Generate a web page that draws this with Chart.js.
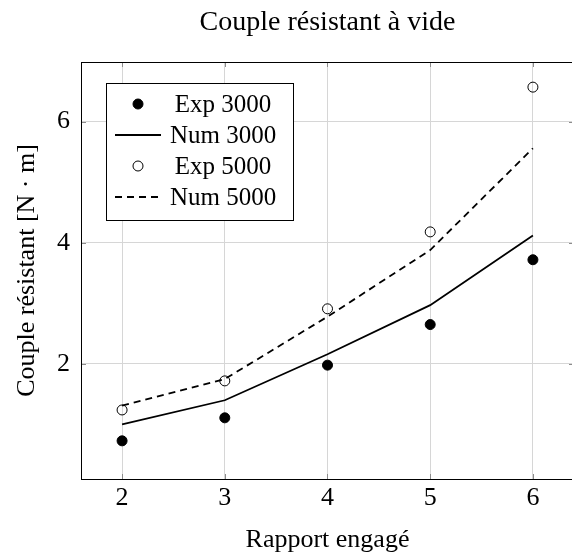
<!DOCTYPE html>
<html>
<head>
<meta charset="utf-8">
<script src="https://cdn.jsdelivr.net/npm/chart.js@4"></script>
<style>
  html, body { margin: 0; padding: 0; background: #fff; overflow: hidden; }
  canvas { display: block; }
</style>
</head>
<body>
<canvas id="chart" width="592" height="557"></canvas>
<script>
// données
const rapports = [2, 3, 4, 5, 6];
const exp3000 = [0.73, 1.11, 1.98, 2.65, 3.72];
const num3000 = [1.00, 1.40, 2.16, 2.97, 4.12];
const exp5000 = [1.24, 1.72, 2.91, 4.18, 6.57];
const num5000 = [1.31, 1.75, 2.78, 3.88, 5.56];
const xTicks = [2, 3, 4, 5, 6];
const yTicks = [2, 4, 6];

const FONT = "'Liberation Serif', 'Times New Roman', serif";
Chart.defaults.font.family = FONT;
Chart.defaults.color = '#000';

function toPoints(values) {
  return rapports.map((x, i) => ({ x: x, y: values[i] }));
}

// titre centré sur la zone de tracé + cadre et petites graduations
const frame = {
  id: 'frame',
  afterDraw(chart) {
    const { ctx, chartArea: a, scales } = chart;
    ctx.save();
    ctx.strokeStyle = '#8c8c8c';
    ctx.lineWidth = 1;
    ctx.beginPath();
    xTicks.forEach(v => {
      const px = Math.round(scales.x.getPixelForValue(v)) + 0.5;
      ctx.moveTo(px, a.bottom); ctx.lineTo(px, a.bottom - 5);
      ctx.moveTo(px, a.top); ctx.lineTo(px, a.top + 5);
    });
    yTicks.forEach(v => {
      const py = Math.round(scales.y.getPixelForValue(v)) + 0.5;
      ctx.moveTo(a.left, py); ctx.lineTo(a.left + 5, py);
      ctx.moveTo(a.right, py); ctx.lineTo(a.right - 5, py);
    });
    ctx.stroke();
    ctx.strokeStyle = '#000';
    ctx.strokeRect(Math.round(a.left) + 0.5, Math.round(a.top) + 0.5,
      Math.round(a.right - a.left), Math.round(a.bottom - a.top));

    ctx.fillStyle = '#000';
    ctx.font = '28px ' + FONT;
    ctx.textAlign = 'center';
    ctx.textBaseline = 'middle';
    ctx.fillText('Couple résistant à vide', (a.left + a.right) / 2, 23);
    ctx.restore();
  }
};

// légende en haut à gauche, comme pgfplots
const legendBox = {
  id: 'legendBox',
  afterDraw(chart) {
    const ctx = chart.ctx;
    const x0 = 106, y0 = 83, w = 187, h = 137;
    ctx.save();
    ctx.fillStyle = '#fff';
    ctx.fillRect(x0, y0, w, h);
    ctx.strokeStyle = '#000';
    ctx.lineWidth = 1;
    ctx.strokeRect(x0 + 0.5, y0 + 0.5, w, h);
    chart.data.datasets.forEach((ds, i) => {
      const cy = y0 + 21 + i * 31;
      ctx.strokeStyle = '#000';
      if (ds.showLine === false) {
        ctx.beginPath();
        ctx.arc(138, cy, ds.pointRadius, 0, Math.PI * 2);
        if (ds.pointBackgroundColor !== 'rgba(0,0,0,0)') {
          ctx.fillStyle = ds.pointBackgroundColor;
          ctx.fill();
        }
        ctx.lineWidth = ds.pointBorderWidth;
        ctx.stroke();
      } else {
        ctx.beginPath();
        ctx.setLineDash(ds.borderDash || []);
        ctx.lineWidth = ds.borderWidth;
        ctx.moveTo(115, cy);
        ctx.lineTo(161, cy);
        ctx.stroke();
        ctx.setLineDash([]);
      }
      ctx.fillStyle = '#000';
      ctx.font = '25px ' + FONT;
      ctx.textAlign = 'center';
      ctx.textBaseline = 'middle';
      ctx.fillText(ds.label, 223, cy + 1);
    });
    ctx.restore();
  }
};

new Chart(document.getElementById('chart'), {
  type: 'line',
  data: {
    datasets: [
      {
        label: 'Exp 3000',
        data: toPoints(exp3000),
        showLine: false,
        pointRadius: 5,
        pointBackgroundColor: '#000',
        pointBorderColor: '#000',
        pointBorderWidth: 1
      },
      {
        label: 'Num 3000',
        data: toPoints(num3000),
        borderColor: '#000',
        borderWidth: 1.8,
        pointRadius: 0,
        tension: 0
      },
      {
        label: 'Exp 5000',
        data: toPoints(exp5000),
        showLine: false,
        pointRadius: 5,
        pointBackgroundColor: 'rgba(0,0,0,0)',
        pointBorderColor: '#000',
        pointBorderWidth: 1
      },
      {
        label: 'Num 5000',
        data: toPoints(num5000),
        borderColor: '#000',
        borderWidth: 1.8,
        borderDash: [7, 5],
        pointRadius: 0,
        tension: 0
      }
    ]
  },
  options: {
    responsive: false,
    animation: false,
    layout: { padding: { top: 62, right: 18, left: 0, bottom: 0 } },
    plugins: {
      legend: { display: false },
      title: { display: false },
      tooltip: { enabled: false }
    },
    scales: {
      x: {
        type: 'linear',
        min: 1.6,
        max: 6.4,
        afterBuildTicks: s => { s.ticks = xTicks.map(v => ({ value: v })); },
        afterFit: s => { s.height = 78; },
        grid: { color: '#d6d6d6', drawTicks: false },
        border: { display: false },
        ticks: { font: { size: 26 }, color: '#000', padding: 4, maxRotation: 0, autoSkip: false },
        title: {
          display: true,
          text: 'Rapport engagé',
          font: { size: 26 },
          color: '#000',
          padding: { top: 0, bottom: 1 }
        }
      },
      y: {
        type: 'linear',
        min: 0.1,
        max: 6.985,
        afterBuildTicks: s => { s.ticks = yTicks.map(v => ({ value: v })); },
        afterFit: s => { s.width = 81; },
        grid: { color: '#d6d6d6', drawTicks: false },
        border: { display: false },
        ticks: { font: { size: 26 }, color: '#000', padding: 11, autoSkip: false },
        title: {
          display: true,
          text: 'Couple résistant [N · m]',
          font: { size: 26 },
          color: '#000',
          padding: { top: 12, bottom: 0 }
        }
      }
    }
  },
  plugins: [frame, legendBox]
});
</script>
</body>
</html>
